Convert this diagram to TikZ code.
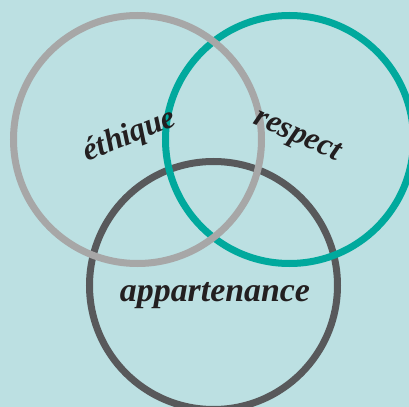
\documentclass[tikz,border=0pt]{standalone}
\usepackage{xcolor}
\usepackage{fontspec}
\setmainfont{Liberation Serif}
\usepackage{tikz}
\definecolor{bgblue}{HTML}{BCE0E2}
\definecolor{ringgray}{HTML}{A7A7A7}
\definecolor{ringteal}{HTML}{00A99D}
\definecolor{ringdark}{HTML}{58595B}
\definecolor{wordink}{HTML}{231F20}
\tikzset{
	ring/.style={line width=7bp, draw=#1},
	word/.style={text=wordink, font=\fontsize{#1}{#1}\selectfont\bfseries\itshape, inner sep=0pt}
}

\begin{document}
\begin{tikzpicture}[x=1bp,y=1bp]
	\useasboundingbox (0,0) rectangle (409,407);
	\fill[bgblue] (0,0) rectangle (409,407);
	\clip (0,0) rectangle (409,407);

	\draw[ring=ringdark] (213.5,121.5) circle (124);
	\draw[ring=ringteal] (289.5,267.5) circle (124);
	\draw[ring=ringgray] (137.5,267.5) circle (124);

	\node[word=32, rotate=22] (ethique) at (130,271) {éthique};
	\node[word=32, rotate=-24] (respect) at (297,270) {respect};
	\node[word=34] (appartenance) at (215,111) {appartenance};

\end{tikzpicture}
\end{document}
